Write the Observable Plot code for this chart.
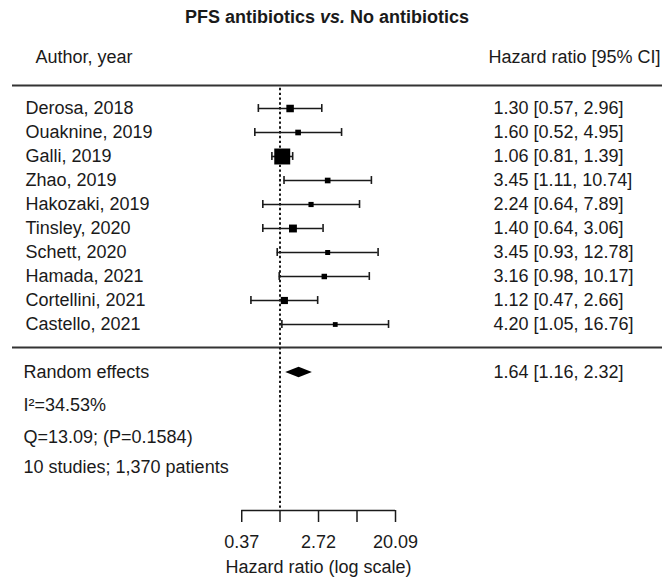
<!DOCTYPE html>
<html><head><meta charset="utf-8">
<script src="https://cdn.jsdelivr.net/npm/d3@7"></script>
<script src="https://cdn.jsdelivr.net/npm/@observablehq/plot@0.6"></script>
<style>
body{margin:0;background:#fff;font-family:"Liberation Sans",Arial,sans-serif;color:#1a1a1a}
#title{width:654px;height:34px;line-height:34px;text-align:center;font-weight:bold;font-size:18px}
svg{display:block}
</style>
</head><body>
<div id="title">PFS antibiotics <i>vs.</i> No antibiotics</div>
<div id="chart"></div>
<script>
// ---- data ----
const authors = ["Derosa, 2018","Ouaknine, 2019","Galli, 2019","Zhao, 2019","Hakozaki, 2019","Tinsley, 2020","Schett, 2020","Hamada, 2021","Cortellini, 2021","Castello, 2021"];
const hr    = [1.30, 1.60, 1.06, 3.45, 2.24, 1.40, 3.45, 3.16, 1.12, 4.20];
const lower = [0.57, 0.52, 0.81, 1.11, 0.64, 0.64, 0.93, 0.98, 0.47, 1.05];
const upper = [2.96, 4.95, 1.39, 10.74, 7.89, 3.06, 12.78, 10.17, 2.66, 16.76];
const weights = [11.1, 6.8, 30.7, 6.8, 5.7, 12.0, 5.3, 6.4, 10.3, 4.8];
const pooledLabel = "Random effects";
const pooled = [1.64, 1.16, 2.32];
const statsLines = ["I²=34.53%", "Q=13.09; (P=0.1584)", "10 studies; 1,370 patients"];
const tickValues = [0.37, 1, 2.72, 7.39, 20.09];
const tickLabels = ["0.37", "", "2.72", "", "20.09"];
const headers = ["Author, year", "Hazard ratio [95% CI]"];
const axisTitle = "Hazard ratio (log scale)";

// ---- layout (row-index positions) ----
const L = {header: -2.125, topLine: -0.96, midLine: 9.96, pooledRow: 11, stats: [12.375, 13.71, 14.96], axisRow: 16.75, axisTitle: 19.12, cap: 0.165, dia: 0.215};

const fmt = v => v.toFixed(2);
const rows = authors.map((a, i) => ({author: a, hr: hr[i], lo: lower[i], hi: upper[i], w: weights[i], i,
  label: `${fmt(hr[i])} [${fmt(lower[i])}, ${fmt(upper[i])}]`}));
const pooledText = `${fmt(pooled[0])} [${fmt(pooled[1])}, ${fmt(pooled[2])}]`;
const diamond = [
  {y: L.pooledRow - L.dia, x1: pooled[0], x2: pooled[0]},
  {y: L.pooledRow, x1: pooled[1], x2: pooled[2]},
  {y: L.pooledRow + L.dia, x1: pooled[0], x2: pooled[0]}
];
const tickMap = new Map(tickValues.map((v, i) => [v, tickLabels[i]]));
const ink = "#1a1a1a", lineInk = "#333";

const chart = Plot.plot({
  width: 662, height: 551,
  marginLeft: 12, marginRight: 0, marginTop: 0, marginBottom: 75,
  style: {fontFamily: '"Liberation Sans", Arial, sans-serif', fontSize: "18px", color: ink, background: "#fff"},
  x: {type: "log", domain: [Math.exp(-1), Math.exp(3)], range: [241, 395]},
  y: {domain: [0, 10], range: [74, 314], axis: null},
  r: {type: "linear", domain: [d3.min(weights), d3.max(weights)], range: [2.7, 9.0]},
  marks: [
    Plot.ruleY([L.topLine], {stroke: lineInk, strokeWidth: 2}),
    Plot.ruleY([L.midLine], {stroke: lineInk, strokeWidth: 2}),
    Plot.ruleX([1], {y1: L.topLine + 0.12, y2: L.axisRow, stroke: ink, strokeWidth: 2, strokeDasharray: "2.4,2.4"}),
    Plot.text([headers[0]], {y: [L.header], frameAnchor: "left", dx: 23, textAnchor: "start", fontSize: 18, fill: ink}),
    Plot.text([headers[1]], {y: [L.header], frameAnchor: "right", dx: -2, textAnchor: "end", fontSize: 18, fill: ink}),
    Plot.text(rows, {y: "i", text: "author", frameAnchor: "left", dx: 13, textAnchor: "start", fontSize: 18, fill: ink}),
    Plot.text(rows, {y: "i", text: "label", frameAnchor: "left", dx: 481, textAnchor: "start", fontSize: 18, fill: ink}),
    Plot.ruleY(rows, {y: "i", x1: "lo", x2: "hi", stroke: ink, strokeWidth: 1.6}),
    Plot.ruleX(rows, {x: "lo", y1: d => d.i - L.cap, y2: d => d.i + L.cap, stroke: ink, strokeWidth: 1.6}),
    Plot.ruleX(rows, {x: "hi", y1: d => d.i - L.cap, y2: d => d.i + L.cap, stroke: ink, strokeWidth: 1.6}),
    Plot.dot(rows, {x: "hr", y: "i", r: "w", symbol: "square", fill: "#000", stroke: "none"}),
    Plot.areaX(diamond, {y: "y", x1: "x1", x2: "x2", fill: "#000"}),
    Plot.text([pooledLabel], {y: [L.pooledRow], frameAnchor: "left", dx: 11, textAnchor: "start", fontSize: 18, fill: ink}),
    Plot.text([pooledText], {y: [L.pooledRow], frameAnchor: "left", dx: 481, textAnchor: "start", fontSize: 18, fill: ink}),
    Plot.text(statsLines, {y: L.stats, frameAnchor: "left", dx: 11, textAnchor: "start", fontSize: 18, fill: ink}),
    Plot.ruleY([L.axisRow], {x1: tickValues[0], x2: tickValues[tickValues.length - 1], stroke: ink, strokeWidth: 1.5}),
    Plot.axisX({ticks: tickValues, tickSize: 12, tickPadding: 13, tickFormat: d => tickMap.get(d), fontSize: 18, label: null, strokeWidth: 1.5, stroke: ink, fill: ink}),
    Plot.text([axisTitle], {x: [Math.E], y: [L.axisTitle], fontSize: 18, fill: ink})
  ]
});
document.getElementById("chart").appendChild(chart);
</script>
</body></html>
